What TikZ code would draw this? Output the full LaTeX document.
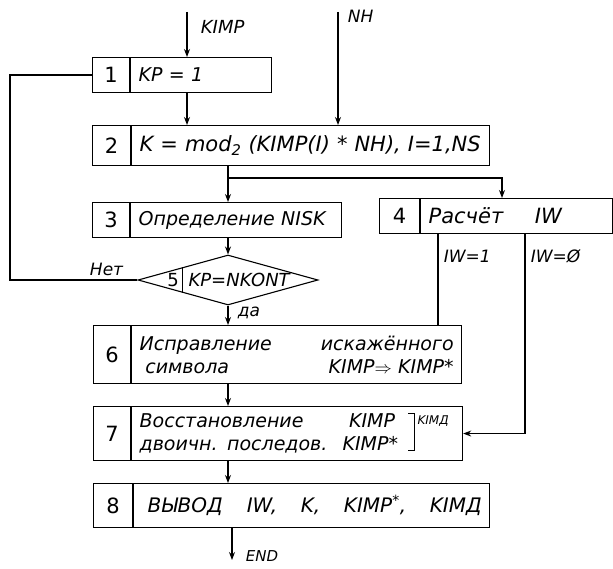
\documentclass[tikz,border=0pt]{standalone}
\usepackage{fontspec}
\setmainfont{DejaVu Sans}
\usetikzlibrary{positioning,calc,shapes.geometric,arrows.meta}

\begin{document}
\begin{tikzpicture}[
            x=1pt, y=-1pt,
            line width=1.1pt,
            font=\itshape\fontsize{19}{23}\selectfont,
            numcell/.style={rectangle, draw, anchor=north west, inner sep=0pt,
                       font=\fontsize{21}{23}\selectfont},
            txtcell/.style={rectangle, draw, align=left, inner xsep=8pt, inner ysep=0pt},
            arrow/.style={-{Stealth[length=8pt,width=6pt]}},
            lbl/.style={font=\itshape\fontsize{17}{19}\selectfont}
        ]
            \useasboundingbox (0,0) rectangle (613,569);

            % Boxes: number cell + text cell
            \node[numcell, minimum width=37pt, minimum height=35pt] (n1) at (92,57) {1};
            \node[txtcell, right=0pt of n1, minimum height=35pt, text width=125pt] (t1) {KP = 1};

            \node[numcell, minimum width=38pt, minimum height=40pt] (n2) at (92,125) {2};
            \node[txtcell, right=0pt of n2, minimum height=40pt, text width=342pt,
                  font=\itshape\fontsize{21}{23}\selectfont] (t2)
                {K = mod\textsubscript{2} (KIMP(I) * NH), I=1,NS};

            \node[numcell, minimum width=37pt, minimum height=35pt] (n3) at (92,202) {3};
            \node[txtcell, right=0pt of n3, minimum height=35pt, text width=195pt] (t3) {Определение NISK};

            \node[numcell, minimum width=40pt, minimum height=35pt] (n4) at (379,198) {4};
            \node[txtcell, right=0pt of n4, minimum height=35pt, text width=176pt,
                  font=\itshape\fontsize{21}{23}\selectfont] (t4)
                {Расчёт\hspace{1.5em}IW};

            \node[diamond, draw, minimum width=180pt, minimum height=50pt, inner sep=0pt] (d5) at (228,280) {};
            \node[font=\fontsize{18}{19}\selectfont] (d5num) at ([xshift=-55pt]d5.center) {5};
            \node[anchor=west, font=\itshape\fontsize{18}{19}\selectfont, inner xsep=2pt] (d5txt)
                at ([xshift=-42pt]d5.center) {KP=NKONT};

            \node[numcell, minimum width=37pt, minimum height=58pt] (n6) at (93,325) {6};
            \node[txtcell, right=0pt of n6, minimum height=58pt, text width=314pt] (t6)
                {Исправление\hfill искажённого\\
                 \hspace{0.3em}символа\hfill KIMP$\Rightarrow$ KIMP*\hspace{0.4em}};

            \node[numcell, minimum width=37pt, minimum height=54pt] (n7) at (93,406) {7};
            \node[txtcell, right=0pt of n7, minimum height=54pt, text width=315pt] (t7)
                {Восстановление\hspace{2.4em}KIMP\\
                 двоичн. последов.\hspace{0.8em}KIMP*};

            \node[numcell, minimum width=39pt, minimum height=44pt] (n8) at (93,483) {8};
            \node[txtcell, right=0pt of n8, minimum height=44pt, text width=340pt,
                  font=\itshape\fontsize{20}{23}\selectfont] (t8)
                {\hspace{0.3em}ВЫВОД\hspace{1.2em}IW,\hfill K,\hfill KIMP\textsuperscript{*},\hfill KIMД};

            % Free ends and columns
            \coordinate (kimp) at (187,12);
            \coordinate (nh) at (338,12);
            \coordinate (col) at (228,0);
            \coordinate (fork) at (228,178);
            \coordinate (fork4) at (502,178);
            \coordinate (loop) at (10,0);
            \coordinate (iw1) at (438,0);
            \coordinate (iw0) at (525,0);
            \coordinate (endpt) at (232,560);

            % Arrows
            \draw[arrow] (kimp) -- (kimp |- t1.north);
            \draw[arrow] (kimp |- t1.south) -- (kimp |- t2.north);
            \draw[arrow] (nh) -- (nh |- t2.north);
            \draw (col |- t2.south) -- (fork);
            \draw[arrow] (fork) -- (col |- t3.north);
            \draw[arrow] (fork) -- (fork4) -- (fork4 |- t4.north);
            \draw[arrow] (col |- t3.south) -- (d5.north);
            \draw[arrow] (d5.south) -- (col |- t6.north);
            \draw (d5.west) -- (loop |- d5.west) -- (loop |- n1.west) -- (n1.west);
            \draw (iw1 |- t4.south) -- (iw1 |- t6.north);
            \draw[arrow] (iw0 |- t4.south) -- (iw0 |- t7.east) -- (t7.east);
            \draw[arrow] (col |- t6.south) -- (col |- t7.north);
            \draw[arrow] (col |- t7.south) -- (col |- t8.north);
            \draw[arrow] (endpt |- t8.south) -- (endpt);

            % Divider in the decision
            \draw (d5.north west) -- (d5.south west);
            % Bracket in box 7
            \draw[line width=0.8pt] (408,413) -- (414,413) -- (414,450) -- (408,450);
            \node[anchor=west, font=\itshape\fontsize{12}{14}\selectfont, inner sep=1pt] (kimd) at (416,421) {KIMД};

            % Side labels
            \node[lbl, anchor=west, font=\itshape\fontsize{18}{20}\selectfont] (kimplbl) at (197,27) {KIMP};
            \node[lbl, anchor=west] (nhlbl) at (344,16) {NH};
            \node[lbl, anchor=east] (net) at (127,269) {Нет};
            \node[lbl, anchor=west] (da) at (234,313) {да};
            \node[lbl, anchor=west] (iw1lbl) at (440,256) {IW=1};
            \node[lbl, anchor=west] (iw0lbl) at (527,256) {IW=Ø};
            \node[lbl, anchor=west, font=\itshape\fontsize{15}{17}\selectfont] (endlbl) at (242,556) {END};
        \end{tikzpicture}
\end{document}
